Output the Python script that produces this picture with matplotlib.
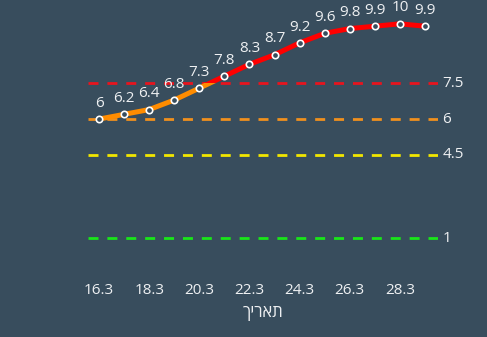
import matplotlib
matplotlib.use('Agg')
import numpy as np
import matplotlib.pyplot as plt
from matplotlib.patches import Rectangle

days = [16, 17, 18, 19, 20, 21, 22, 23, 24, 25, 26, 27, 28, 29]
values = [6, 6.2, 6.4, 6.8, 7.3, 7.8, 8.3, 8.7, 9.2, 9.6, 9.8, 9.9, 10, 9.9]
tick_days = [16, 18, 20, 22, 24, 26, 28]
tick_labels = ['16.3', '18.3', '20.3', '22.3', '24.3', '26.3', '28.3']
levels = [1, 4.5, 6, 7.5]
level_colors = ['#19e619', '#f2e600', '#f0901e', '#e8141e']
split = 7.5
xlabel = 'תאריך'

bg = '#384d5d'
fg = '#eef0f2'
plt.rcParams['font.family'] = ['Open Sans', 'DejaVu Sans']

fig = plt.figure(figsize=(4.87, 3.37), dpi=100, facecolor=bg)
ax = fig.add_axes([88 / 487, 75 / 337, 350 / 487, 262 / 337])
ax.set_facecolor(bg)
ax.set_xlim(15.56, 29.52)
ax.set_ylim(0, 11)

for lv, c in zip(levels, level_colors):
    ax.axhline(lv, color=c, lw=2, dashes=(3.6, 3.2), zorder=1)
    ax.annotate(str(lv), xy=(1, lv), xycoords=('axes fraction', 'data'),
                xytext=(3, 0), textcoords='offset points', va='center', ha='left',
                color=fg, fontsize=11, annotation_clip=False)

# line is orange below 7.5 and red above: draw twice with clipping
lo, = ax.plot(days, values, color='#ff8c00', lw=3.6, zorder=2, solid_capstyle='round')
hi, = ax.plot(days, values, color='#ff0000', lw=3.6, zorder=2, solid_capstyle='round')
lo.set_clip_path(Rectangle((0, -100), 100, 100 + split, transform=ax.transData))
hi.set_clip_path(Rectangle((0, split), 100, 100, transform=ax.transData))
ax.plot(days, values, ls='none', marker='o', ms=4.6, mfc=bg, mec='white', mew=1.2, zorder=3)

for d, v in zip(days, values):
    ax.annotate(f'{v:g}', xy=(d, v), xytext=(0, 6), textcoords='offset points',
                ha='center', va='bottom', color=fg, fontsize=11)

ax.set_xticks(tick_days)
ax.set_xticklabels(tick_labels)
ax.set_yticks([])
ax.tick_params(axis='x', length=0, pad=15, labelsize=11, colors=fg)
for s in ax.spines.values():
    s.set_visible(False)
# matplotlib has no bidi support, so the Hebrew word is given in visual order
ax.set_xlabel(xlabel[::-1], color=fg, fontsize=12, labelpad=5)

fig.savefig('out.png', dpi=100, facecolor=bg)
